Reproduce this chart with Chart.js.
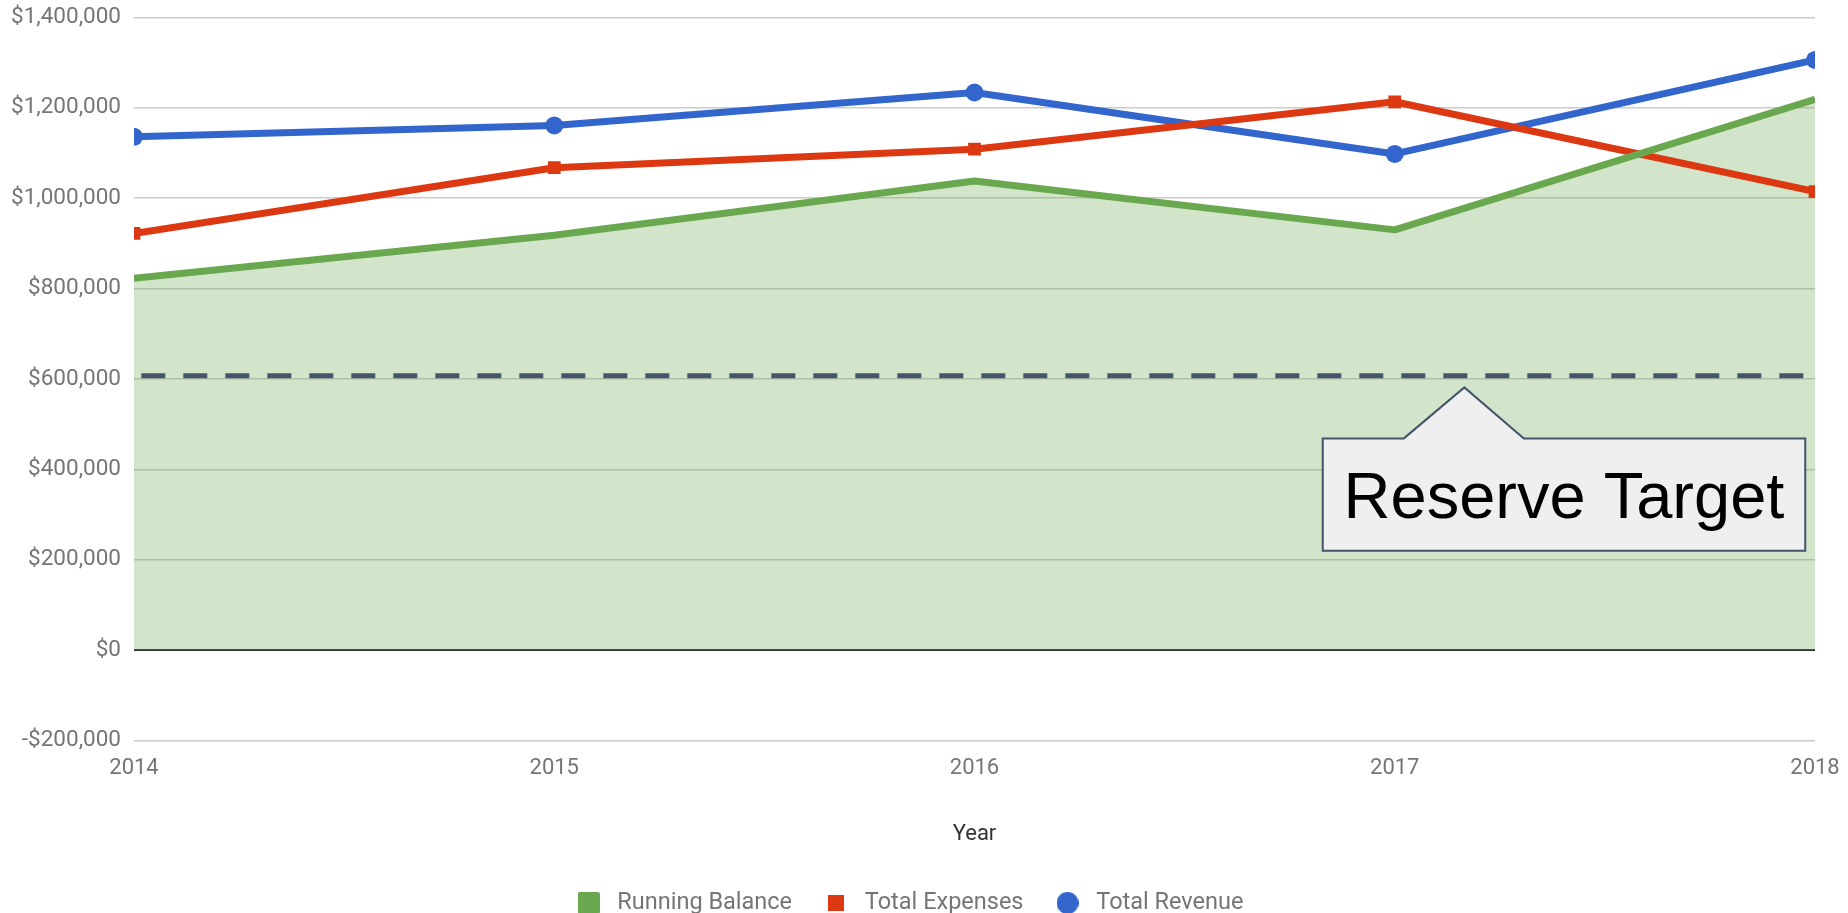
<!DOCTYPE html>
<html>
<head>
<meta charset="utf-8">
<title>Running Balance vs Reserve Target</title>
<script src="https://cdn.jsdelivr.net/npm/chart.js@4/dist/chart.umd.min.js"></script>
<style>
  html, body { margin: 0; padding: 0; background: #fff; }
  #wrap { width: 1848px; height: 913px; position: relative; }
</style>
</head>
<body>
<div id="wrap"><canvas id="lineChart"></canvas></div>
<script>
// chart data
const years = ['2014', '2015', '2016', '2017', '2018'];
const runningBalance = [823000, 918000, 1038000, 930000, 1219000];
const totalExpenses = [922000, 1067500, 1108500, 1213500, 1014500];
const totalRevenue = [1136000, 1161000, 1234000, 1098000, 1306000];
const reserveTarget = [607000, 607000, 607000, 607000, 607000];
const yTicks = [-200000, 0, 200000, 400000, 600000, 800000, 1000000, 1200000, 1400000];

const GREEN = '#6aa84f';
const RED = '#dc3912';
const BLUE = '#3366cc';
const SLATE = '#44546a';
const GREY_TEXT = '#757575';

Chart.defaults.font.family = 'Roboto';

function formatMoney(v) {
  const s = '$' + Math.abs(v).toLocaleString('en-US');
  return v < 0 ? '-' + s : s;
}

// small canvases used as legend markers (each has its own size)
function makeMarker(shape, size, color) {
  const c = document.createElement('canvas');
  c.width = size;
  c.height = size;
  const g = c.getContext('2d');
  g.fillStyle = color;
  if (shape === 'circle') {
    g.beginPath();
    g.arc(size / 2, size / 2, size / 2, 0, Math.PI * 2);
    g.fill();
  } else if (shape === 'rounded') {
    g.beginPath();
    g.roundRect(0, 0, size, size, 2);
    g.fill();
  } else {
    g.fillRect(0, 0, size, size);
  }
  return c;
}

const legendMarkers = [
  makeMarker('rounded', 22, GREEN),
  makeMarker('square', 16, RED),
  makeMarker('circle', 22, BLUE)
];

// callout box under the reserve line
const reserveCallout = {
  id: 'reserveCallout',
  afterDatasetsDraw(chart) {
    const { ctx, chartArea, scales } = chart;
    const apexX = chartArea.left + chartArea.width * 0.7914;
    const apexY = scales.y.getPixelForValue(reserveTarget[3]) + 11.6;
    const left = apexX - 141.6;
    const right = apexX + 340.9;
    const top = apexY + 51;
    const bottom = apexY + 163.4;

    ctx.save();
    ctx.beginPath();
    ctx.moveTo(left, top);
    ctx.lineTo(apexX - 60.5, top);
    ctx.lineTo(apexX, apexY);
    ctx.lineTo(apexX + 59.5, top);
    ctx.lineTo(right, top);
    ctx.lineTo(right, bottom);
    ctx.lineTo(left, bottom);
    ctx.closePath();
    ctx.fillStyle = '#efefef';
    ctx.fill();
    ctx.lineWidth = 2;
    ctx.strokeStyle = SLATE;
    ctx.stroke();

    ctx.fillStyle = '#000';
    ctx.font = '65px "Liberation Sans", Arial, sans-serif';
    ctx.textAlign = 'center';
    ctx.textBaseline = 'alphabetic';
    ctx.fillText('Reserve Target', (left + right) / 2, apexY + 131);
    ctx.restore();
  }
};

function buildChart() {
  const el = document.getElementById('lineChart');
  if (!el) return;

  new Chart(el.getContext('2d'), {
    type: 'line',
    data: {
      labels: years,
      datasets: [
        {
          label: 'Running Balance',
          data: runningBalance,
          borderColor: GREEN,
          backgroundColor: 'rgba(106, 168, 79, 0.3)',
          borderWidth: 7,
          borderJoinStyle: 'round',
          fill: 'origin',
          pointRadius: 0,
          clip: 0
        },
        {
          label: 'Total Expenses',
          data: totalExpenses,
          borderColor: RED,
          backgroundColor: RED,
          borderWidth: 7,
          borderJoinStyle: 'round',
          pointStyle: 'rect',
          pointRadius: 9,
          pointBorderWidth: 0,
          fill: false,
          clip: 0
        },
        {
          label: 'Total Revenue',
          data: totalRevenue,
          borderColor: BLUE,
          backgroundColor: BLUE,
          borderWidth: 7,
          borderJoinStyle: 'round',
          pointStyle: 'circle',
          pointRadius: 9,
          pointBorderWidth: 0,
          fill: false,
          clip: 0
        },
        {
          label: 'Reserve Target',
          data: reserveTarget,
          borderColor: SLATE,
          borderWidth: 5,
          borderDash: [24, 18],
          borderDashOffset: 34.7,
          borderCapStyle: 'butt',
          pointRadius: 0,
          fill: false,
          clip: 0
        }
      ]
    },
    options: {
      responsive: true,
      maintainAspectRatio: false,
      animation: false,
      events: [],
      layout: { padding: { top: 17.5, right: 33, bottom: -11.75, left: 0 } },
      plugins: {
        filler: { drawTime: 'beforeDatasetsDraw' },
        tooltip: { enabled: false },
        legend: {
          position: 'bottom',
          labels: {
            usePointStyle: true,
            pointStyleWidth: 34,
            padding: 27,
            color: GREY_TEXT,
            font: { size: 23.5 },
            generateLabels: chart => chart.data.datasets.slice(0, 3).map((ds, i) => ({
              text: ds.label,
              pointStyle: legendMarkers[i],
              fillStyle: ds.borderColor,
              strokeStyle: 'transparent',
              lineWidth: 0,
              fontColor: GREY_TEXT,
              hidden: false,
              datasetIndex: i
            }))
          }
        }
      },
      scales: {
        x: {
          grid: { display: false, drawTicks: false },
          border: { display: false },
          ticks: { color: GREY_TEXT, font: { size: 22 }, padding: 14.4, maxRotation: 0 },
          title: {
            display: true,
            text: 'Year',
            color: '#333333',
            font: { size: 22 },
            padding: { top: 0, bottom: 16.8 }
          },
          afterFit: scale => {
            // fixed axis height; end labels may hang past the plot edges
            scale.height = 123.85;
            scale.paddingLeft = 0;
            scale.paddingRight = 0;
          }
        },
        y: {
          min: yTicks[0],
          max: yTicks[yTicks.length - 1],
          afterBuildTicks: scale => { scale.ticks = yTicks.map(v => ({ value: v })); },
          grid: {
            drawTicks: false,
            color: c => (c.tick && c.tick.value === 0 ? '#333333' : '#cccccc'),
            lineWidth: c => (c.tick && c.tick.value === 0 ? 2 : 1.6)
          },
          border: { display: false },
          ticks: {
            color: GREY_TEXT,
            font: { size: 22.5 },
            padding: 13,
            callback: v => formatMoney(v)
          },
          afterFit: scale => {
            // fixed axis width, and no extra room for the top/bottom labels
            scale.width = 134;
            scale.paddingTop = 0;
            scale.paddingBottom = 0;
          }
        }
      }
    },
    plugins: [reserveCallout]
  });
}

// init
buildChart();
</script>
</body>
</html>
